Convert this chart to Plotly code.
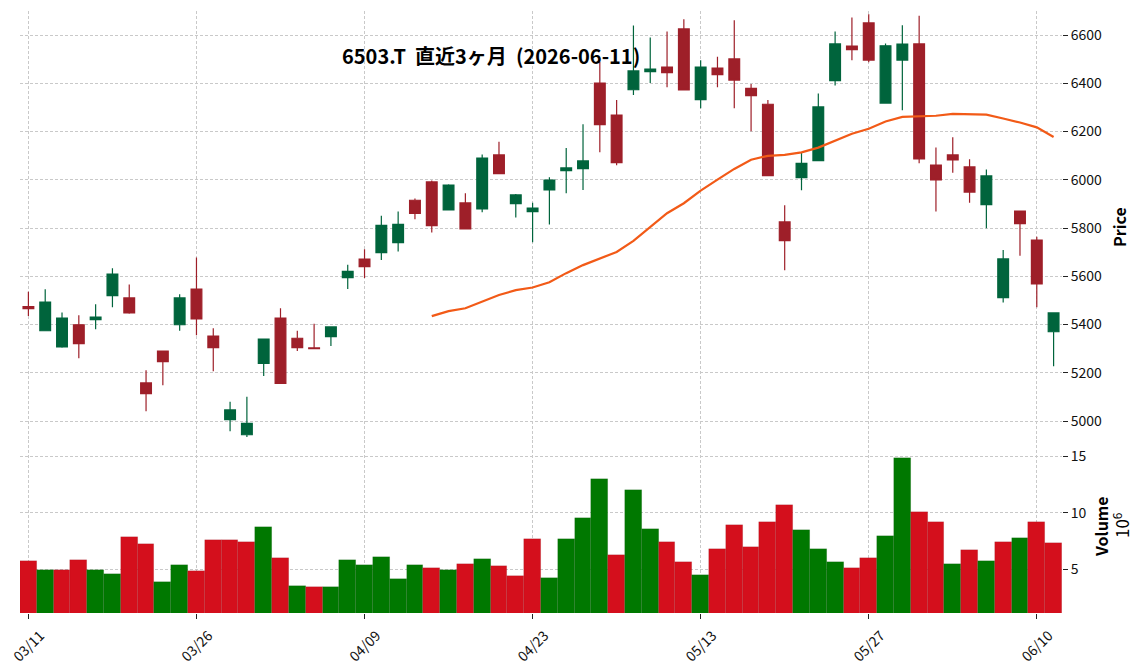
import plotly.graph_objects as go
from plotly.subplots import make_subplots
import pandas as pd

# ---------------- data ----------------
dates = [
    "2026-03-11", "2026-03-12", "2026-03-13", "2026-03-16", "2026-03-17", "2026-03-18", "2026-03-19",
    "2026-03-23", "2026-03-24", "2026-03-25", "2026-03-26", "2026-03-27", "2026-03-30", "2026-03-31",
    "2026-04-01", "2026-04-02", "2026-04-03", "2026-04-06", "2026-04-07", "2026-04-08", "2026-04-09",
    "2026-04-10", "2026-04-13", "2026-04-14", "2026-04-15", "2026-04-16", "2026-04-17", "2026-04-20",
    "2026-04-21", "2026-04-22", "2026-04-23", "2026-04-24", "2026-04-27", "2026-04-28", "2026-04-30",
    "2026-05-01", "2026-05-07", "2026-05-08", "2026-05-11", "2026-05-12", "2026-05-13", "2026-05-14",
    "2026-05-15", "2026-05-18", "2026-05-19", "2026-05-20", "2026-05-21", "2026-05-22", "2026-05-25",
    "2026-05-26", "2026-05-27", "2026-05-28", "2026-05-29", "2026-06-01", "2026-06-02", "2026-06-03",
    "2026-06-04", "2026-06-05", "2026-06-08", "2026-06-09", "2026-06-10", "2026-06-11",
]

opens = [5474, 5374, 5307, 5399, 5420, 5520, 5510, 5158, 5290, 5399,
         5547, 5352, 5006, 4943, 5239, 5427, 5343, 5303, 5350, 5594,
         5671, 5698, 5739, 5915, 5991, 5875, 5904, 5879, 6103, 5901,
         5868, 5958, 6038, 6046, 6401, 6268, 6373, 6448, 6467, 6625,
         6332, 6463, 6501, 6379, 6313, 5825, 6009, 6079, 6411, 6554,
         6650, 6318, 6496, 6563, 6061, 6103, 6053, 5897, 5511, 5870,
         5750, 5370]
highs = [5536, 5546, 5450, 5438, 5484, 5633, 5566, 5210, 5292, 5525,
         5678, 5384, 5080, 5101, 5341, 5467, 5374, 5403, 5392, 5648,
         5712, 5851, 5868, 5922, 5997, 5981, 5944, 6105, 6158, 5941,
         5905, 6010, 6132, 6230, 6489, 6331, 6639, 6590, 6615, 6665,
         6495, 6510, 6661, 6397, 6331, 5894, 6114, 6358, 6615, 6673,
         6686, 6565, 6640, 6680, 6134, 6176, 6085, 6043, 5709, 5872,
         5764, 5450]
lows = [5435, 5372, 5304, 5260, 5380, 5471, 5445, 5040, 5148, 5374,
        5355, 5206, 4957, 4934, 5187, 5154, 5290, 5299, 5311, 5547,
        5593, 5667, 5703, 5836, 5781, 5873, 5795, 5865, 6024, 5844,
        5741, 5815, 5944, 5958, 6114, 6060, 6351, 6401, 6383, 6371,
        6296, 6383, 6296, 6201, 6016, 5625, 5956, 6078, 6391, 6495,
        6487, 6317, 6288, 6068, 5868, 6029, 5905, 5799, 5491, 5685,
        5471, 5227]
closes = [5466, 5493, 5427, 5321, 5431, 5609, 5448, 5113, 5246, 5510,
          5423, 5304, 5046, 4990, 5339, 5156, 5304, 5300, 5390, 5620,
          5640, 5811, 5815, 5861, 5810, 5978, 5796, 6090, 6025, 5937,
          5882, 5999, 6049, 6078, 6228, 6071, 6451, 6459, 6444, 6372,
          6467, 6436, 6413, 6349, 6017, 5748, 6068, 6302, 6563, 6539,
          6496, 6555, 6562, 6086, 5999, 6082, 5949, 6016, 5672, 5818,
          5568, 5448]
volumes = [5740000, 4940000, 4940000, 5820000, 4940000, 4590000, 7850000, 7240000, 3880000, 5380000,
           4850000, 7590000, 7590000, 7410000, 8740000, 6000000, 3530000, 3440000, 3440000, 5820000,
           5380000, 6090000, 4150000, 5380000, 5120000, 4940000, 5470000, 5910000, 5290000, 4410000,
           7680000, 4240000, 7680000, 9530000, 12970000, 6260000, 12000000, 8560000, 7410000, 5650000,
           4500000, 6790000, 8910000, 6970000, 9180000, 10680000, 8470000, 6790000, 5650000, 5120000,
           6000000, 7940000, 14820000, 10060000, 9180000, 5470000, 6710000, 5740000, 7410000, 7760000,
           9180000, 7320000]

title_text = "6503.T  直近3ヶ月  (2026-06-11)"
ma_window = 25
tick_every = 10
price_ticks = [5000, 5200, 5400, 5600, 5800, 6000, 6200, 6400, 6600]
volume_ticks = [5, 10, 15]

# ---------------- derived ----------------
idx = list(range(len(dates)))
tick_vals = idx[::tick_every]
tick_text = [d[5:7] + "/" + d[8:10] for d in dates[::tick_every]]
ma = pd.Series(closes).rolling(ma_window).mean()
vol_m = [v / 1e6 for v in volumes]

UP_C, DN_C = "#00643c", "#9e1f29"
VUP, VDN = "#007800", "#d40f1c"
vol_colors = []
for i, c in enumerate(closes):
    ref = closes[i - 1] if i > 0 else opens[i]
    vol_colors.append(VUP if c >= ref else VDN)

FONT = "Noto Sans CJK JP"
W, H = 1144, 670
L, R, T, B = 20, 1062, 11, 613
SPLIT = 440
plot_h = B - T
vol_frac = (B - SPLIT) / plot_h

fig = make_subplots(rows=2, cols=1, shared_xaxes=True, vertical_spacing=0,
                    row_heights=[1 - vol_frac, vol_frac])

fig.add_trace(go.Candlestick(
    x=idx, open=opens, high=highs, low=lows, close=closes,
    increasing=dict(line=dict(color=UP_C, width=1.2), fillcolor=UP_C),
    decreasing=dict(line=dict(color=DN_C, width=1.2), fillcolor=DN_C),
    showlegend=False, hoverinfo="skip", whiskerwidth=0,
), row=1, col=1)

fig.add_trace(go.Scatter(
    x=idx, y=ma, mode="lines", line=dict(color="#f25a17", width=2.2),
    showlegend=False, hoverinfo="skip",
), row=1, col=1)

fig.add_trace(go.Bar(
    x=idx, y=vol_m, marker=dict(color=vol_colors, line=dict(color="rgba(0,0,0,0.12)", width=0.6)),
    showlegend=False, hoverinfo="skip",
), row=2, col=1)

grid = dict(showgrid=True, gridcolor="#c9c9c9", gridwidth=1, griddash="3px,2px",
            zeroline=False, showline=False, automargin=False)
xr = [-0.5, len(idx) - 0.5]
fig.update_xaxes(range=xr, tickmode="array", tickvals=tick_vals, ticktext=tick_text,
                 rangeslider_visible=False, **grid)
fig.update_xaxes(showticklabels=False, ticks="", row=1, col=1)
fig.update_xaxes(showticklabels=True, ticks="outside", ticklen=5, tickwidth=1, tickcolor="#222",
                 tickangle=-45, ticklabeloverflow="allow", ticklabelshift=12, ticklabelstandoff=3,
                 tickfont=dict(family=FONT, size=14, color="#111"), row=2, col=1)

p_per_px = 200 / 48.25
p_top = 6600 + (35 - T) * p_per_px
p_bot = 5000 - (SPLIT - 421) * p_per_px
fig.update_yaxes(range=[p_bot, p_top], side="right", tickmode="array", tickvals=price_ticks,
                 ticks="outside", ticklen=5, tickwidth=1, tickcolor="#222",
                 tickfont=dict(family=FONT, size=14, color="#111"), row=1, col=1, **grid)

v_per_px = 5 / 56.7
v_top = 15 + (456.5 - SPLIT) * v_per_px
v_bot = 5 - (B - 569.3) * v_per_px
fig.update_yaxes(range=[v_bot, v_top], side="right", tickmode="array", tickvals=volume_ticks,
                 ticks="outside", ticklen=5, tickwidth=1, tickcolor="#222",
                 tickfont=dict(family=FONT, size=14, color="#111"), row=2, col=1, **grid)

def px_x(px):
    return (px - L) / (R - L)

def px_y(py):
    return 1 - (py - T) / plot_h

fig.add_annotation(text="<b>" + title_text + "</b>", xref="paper", yref="paper",
                   x=px_x(491), y=px_y(55), xanchor="center", yanchor="middle",
                   showarrow=False, font=dict(family=FONT, size=20, color="#000"))
fig.add_annotation(text="<b>Price</b>", xref="paper", yref="paper",
                   x=px_x(1119), y=px_y(227), xanchor="center", yanchor="middle", textangle=-90,
                   showarrow=False, font=dict(family=FONT, size=16, color="#000"))
fig.add_annotation(text="<b>Volume</b>", xref="paper", yref="paper",
                   x=px_x(1101), y=px_y(527), xanchor="center", yanchor="middle", textangle=-90,
                   showarrow=False, font=dict(family=FONT, size=16, color="#000"))
fig.add_annotation(text="10<sup>6</sup>", xref="paper", yref="paper",
                   x=px_x(1121), y=px_y(525), xanchor="center", yanchor="middle", textangle=-90,
                   showarrow=False, font=dict(family=FONT, size=17, color="#000"))

fig.update_layout(
    width=W, height=H,
    margin=dict(l=L, r=W - R, t=T, b=H - B, pad=0, autoexpand=False),
    paper_bgcolor="white", plot_bgcolor="white",
    bargap=0, boxgap=0.36, boxgroupgap=0,
    font=dict(family=FONT, size=14, color="#111"),
)

fig.write_html("out.html")
